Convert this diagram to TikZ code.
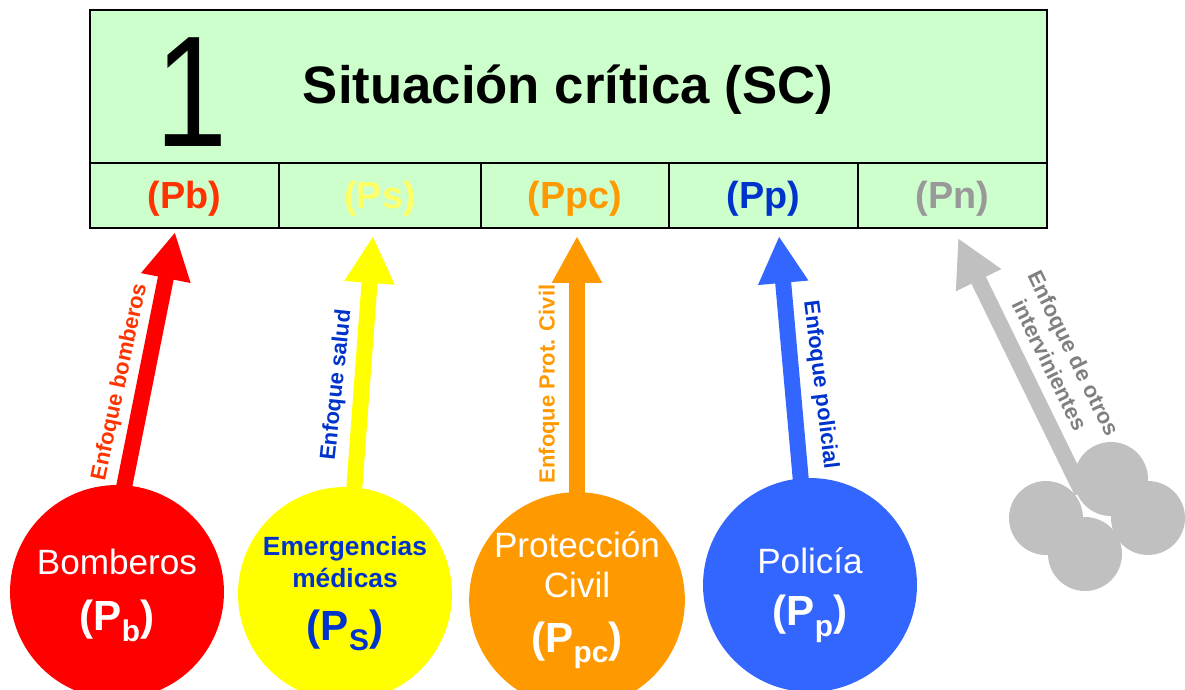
\documentclass[tikz,border=0pt]{standalone}
\usepackage{fontspec}
\setmainfont{Liberation Sans}
\usepackage{xcolor}
\usepackage{graphicx}
\usepackage{tikz}
\usetikzlibrary{arrows.meta, positioning}
\definecolor{scgreen}{RGB}{204,255,204}
\definecolor{pbred}{RGB}{255,51,0}
\definecolor{psyellow}{RGB}{255,255,102}
\definecolor{ppcorange}{RGB}{255,153,0}
\definecolor{ppblue}{RGB}{0,51,204}
\definecolor{pngray}{RGB}{153,153,153}
\definecolor{cred}{RGB}{255,0,0}
\definecolor{cyellow}{RGB}{255,255,0}
\definecolor{cblue}{RGB}{51,102,255}
\definecolor{cgray}{RGB}{192,192,192}
\definecolor{tgray}{RGB}{128,128,128}
\newcommand{\sidx}[1]{\raisebox{-6pt}{\fontsize{17}{17}\selectfont #1}}
\tikzset{
  cellbox/.style={rectangle, draw=black, fill=scgreen, line width=0.9pt,
    minimum height=1.3cm, inner sep=0pt, outer sep=0pt,
    text height=17.3pt, text depth=2.7pt,
    font=\fontsize{21.5}{24}\selectfont\bfseries},
  agent/.style={circle, minimum size=4.28cm, inner sep=0pt, align=center,
    font=\fontsize{20}{23}\selectfont},
  othercirc/.style={circle, fill=cgray, minimum size=1.48cm, inner sep=0pt},
  focus/.style={line width=0.32cm, -{Triangle[width=0.94cm, length=0.94cm]},
    shorten <=-4pt},
  focuslabel/.style={font=\fontsize{12.5}{15}\selectfont\bfseries,
    inner sep=0pt, align=center}
}

\begin{document}
\begin{tikzpicture}[x=0.02cm, y=-0.02cm]
  \useasboundingbox (0,0) rectangle (1185,689);
  % Situacion critica
  \node[cellbox, minimum width=19.14cm, minimum height=3.06cm] (sc) at (568.5,86.5) {};
  \node[font=\fontsize{90}{90}\selectfont] (one) at (192,92) {\scalebox{0.82}[1]{1}};
  \node[font=\fontsize{30}{36}\selectfont\bfseries] (sctitle) at (568,90) {Situación crítica (SC)};
  % Perspectives row
  \node[cellbox, minimum width=3.78cm, anchor=north west, text=pbred] (cb) at (sc.south west) {(Pb)};
  \node[cellbox, minimum width=4.04cm, right=0pt of cb, text=psyellow] (cs) {(Ps)};
  \node[cellbox, minimum width=3.76cm, right=0pt of cs, text=ppcorange] (cpc) {(Ppc)};
  \node[cellbox, minimum width=3.78cm, right=0pt of cpc, text=ppblue] (cp) {(Pp)};
  \node[cellbox, minimum width=3.78cm, right=0pt of cp, text=pngray] (cn) {(Pn)};
  % Agents
  \node[agent, fill=cred, text=white] (bomb) at (117,592)
    {\rule{0pt}{18pt}Bomberos\\[9pt]{\fontsize{24}{24}\selectfont\bfseries (P\sidx{b})}};
  \node[agent, fill=cyellow, text=ppblue, font=\fontsize{15}{18}\selectfont\bfseries] (salud) at (345,594)
    {Emergencias\\médicas\\[12pt]{\fontsize{24}{24}\selectfont (P\sidx{S})}};
  \node[agent, fill=ppcorange, text=white] (prot) at (577,600)
    {Protección\\Civil\\[8pt]{\fontsize{24}{24}\selectfont\bfseries (P\sidx{pc})}};
  \node[agent, fill=cblue, text=white] (poli) at (810,585)
    {\rule{0pt}{26pt}Policía\\[7pt]{\fontsize{24}{24}\selectfont\bfseries (P\sidx{p})}};
  % Arrow tips
  \coordinate (tb) at (175,232);
  \coordinate (ts) at (373,236);
  \coordinate (tpc) at (577,236);
  \coordinate (tp) at (779,236);
  \coordinate (tn) at (958,238);
  \coordinate (otros) at (1082,492);
  % Focus arrows
  \draw[focus, cred] (bomb.86) -- (tb);
  \draw[focus, cyellow] (salud.85) -- (ts);
  \draw[focus, ppcorange] (prot.north) -- (tpc);
  \draw[focus, cblue] (poli.95) -- (tp);
  \draw[focus, cgray, shorten <=0pt] (otros) -- (tn);
  % Other agents
  \node[othercirc] (o1) at (1111,479) {};
  \node[othercirc] (o2) at (1148,518) {};
  \node[othercirc] (o3) at (1046,518) {};
  \node[othercirc] (o4) at (1085,554) {};
  % Arrow labels
  \node[focuslabel, text=pbred, rotate=78] (lb) at (120,382) {Enfoque bomberos};
  \node[focuslabel, text=ppblue, rotate=84] (ls) at (337,385) {Enfoque salud};
  \node[focuslabel, text=ppcorange, rotate=90] (lpc) at (549,384) {Enfoque Prot. Civil};
  \node[focuslabel, text=ppblue, rotate=-83] (lp) at (820,385) {Enfoque policial};
  \node[focuslabel, text=tgray, rotate=-64] (ln) at (1062,359) {Enfoque de otros\\intervinientes};
\end{tikzpicture}
\end{document}
